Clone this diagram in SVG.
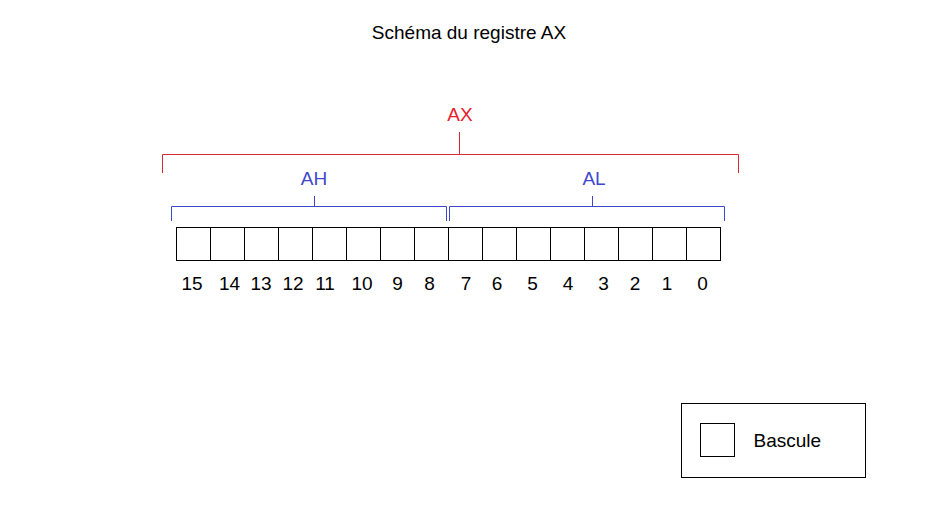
<svg xmlns="http://www.w3.org/2000/svg" width="941" height="507" viewBox="0 0 941 507">
<style>
text{font-family:"Liberation Sans",Arial,sans-serif;font-size:19px;fill:#000}
.red{fill:#e3202b}
.blue{fill:#3f48cc}
.rl{stroke:#d42a33;stroke-width:1;fill:none}
.bl{stroke:#3f48cc;stroke-width:1;fill:none}
.cell{stroke:#000;stroke-width:1;fill:#fff}
.num{text-anchor:middle}
</style>
<rect width="941" height="507" fill="#fff"/>
<text id="title" x="469" y="39" text-anchor="middle">Schéma du registre AX</text>
<g id="connectors">
<path class="rl" d="M162.5,173 V154.5 H738.5 V173 M459.5,132 V154.5"/>
<path class="bl" d="M171.5,221 V206.5 H446.5 V221 M314.5,196 V206.5"/>
<path class="bl" d="M449.5,221 V206.5 H724.5 V221 M592.5,196 V206.5"/>
</g>
<g id="label-AX"><text class="red" x="460" y="121" text-anchor="middle">AX</text></g>
<g id="label-AH"><text class="blue" x="314" y="185" text-anchor="middle">AH</text></g>
<g id="label-AL"><text class="blue" x="594" y="185" text-anchor="middle">AL</text></g>
<g id="register">
<rect class="cell" x="176.5" y="227.5" width="544" height="33"/>
<path stroke="#000" stroke-width="1" d="M210.5,227.5V260.5M244.5,227.5V260.5M278.5,227.5V260.5M312.5,227.5V260.5M346.5,227.5V260.5M380.5,227.5V260.5M414.5,227.5V260.5M448.5,227.5V260.5M482.5,227.5V260.5M516.5,227.5V260.5M550.5,227.5V260.5M584.5,227.5V260.5M618.5,227.5V260.5M652.5,227.5V260.5M686.5,227.5V260.5"/>
</g>
<g id="bit-numbers" class="num">
<text class="num" x="192" y="290">15</text>
<text class="num" x="229.5" y="290">14</text>
<text class="num" x="261" y="290">13</text>
<text class="num" x="293" y="290">12</text>
<text class="num" x="325" y="290">11</text>
<text class="num" x="362" y="290">10</text>
<text class="num" x="397.5" y="290">9</text>
<text class="num" x="429.5" y="290">8</text>
<text class="num" x="466" y="290">7</text>
<text class="num" x="497" y="290">6</text>
<text class="num" x="532.5" y="290">5</text>
<text class="num" x="568" y="290">4</text>
<text class="num" x="603.5" y="290">3</text>
<text class="num" x="635" y="290">2</text>
<text class="num" x="667" y="290">1</text>
<text class="num" x="702.5" y="290">0</text>
</g>
<g id="legend">
<rect x="681.5" y="403.5" width="184" height="74" fill="#fff" stroke="#000" stroke-width="1"/>
<rect class="cell" x="700.5" y="423.5" width="34" height="33"/>
<text x="753.5" y="447">Bascule</text>
</g>
</svg>
